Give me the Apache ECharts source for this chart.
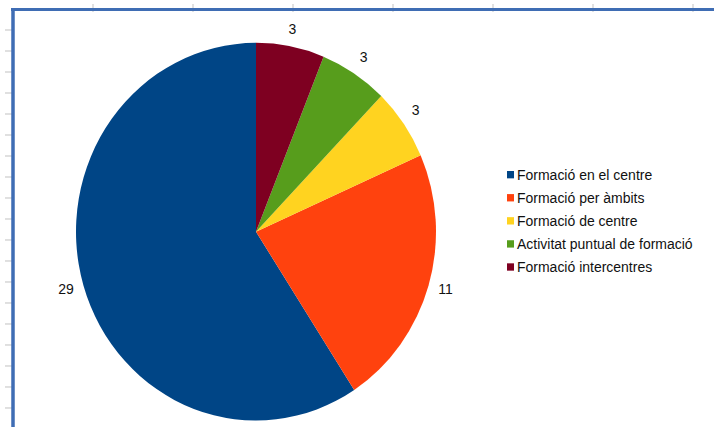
<!DOCTYPE html>
<html>
<head>
<meta charset="utf-8">
<script src="https://cdn.jsdelivr.net/npm/echarts@6/dist/echarts.min.js"></script>
<style>
  html, body { margin: 0; padding: 0; background: #fff; }
  #wrap { width: 714px; height: 427px; overflow: hidden; position: relative; }
  #chart { width: 714px; height: 407px; transform-origin: 0 0; transform: scaleY(1.0491); }
</style>
</head>
<body>
<div id="wrap"><div id="chart"></div></div>
<script>
// Data
const categories = ['Formació en el centre', 'Formació per àmbits', 'Formació de centre', 'Activitat puntual de formació', 'Formació intercentres'];
const values = [29, 11, 3, 3, 3];
const colors = ['#004586', '#ff420e', '#ffd320', '#579d1c', '#7e0021'];

// Layout (unscaled coordinates; the chart is stretched vertically to 427px)
const S = 427 / 407;
const CX = 256, CY = 231.7 / S, R = 180;
const FONT = 'Liberation Sans, Arial, sans-serif';

const chart = echarts.init(document.getElementById('chart'), null, { renderer: 'svg' });

// Frame decoration (spreadsheet-like border with tick marks)
const frame = [];
const tickColor = '#c4c4c4';
for (let x = 93; x < 714; x += 100) {
  frame.push({ type: 'line', shape: { x1: x, y1: 4 / S, x2: x, y2: 12 / S }, style: { stroke: tickColor, lineWidth: 1 }, silent: true });
}
for (let y = 30; y < 427; y += 21) {
  frame.push({ type: 'line', shape: { x1: 5, y1: y / S, x2: 13, y2: y / S }, style: { stroke: tickColor, lineWidth: 1 }, silent: true });
}
frame.push({ type: 'line', shape: { x1: 11, y1: 9.5 / S, x2: 714, y2: 9.5 / S }, style: { stroke: '#3f6db4', lineWidth: 3 }, silent: true, z: 10 });
frame.push({ type: 'line', shape: { x1: 13, y1: 8 / S, x2: 13, y2: 427 / S }, style: { stroke: '#3f6db4', lineWidth: 3.5 }, silent: true, z: 10 });

function placeLabel(params) {
  const r = params.labelRect;
  const ax = params.align === 'right' ? r.x + r.width : r.x;
  const ay = r.y + r.height / 2;
  let deg = Math.atan2(CY - ay, ax - CX) * 180 / Math.PI;
  if (deg < 0) deg += 360;
  let align, va;
  if (deg < 22.5 || deg >= 337.5) { align = 'left'; va = 'middle'; }
  else if (deg < 67.5) { align = 'left'; va = 'bottom'; }
  else if (deg < 112.5) { align = 'center'; va = 'bottom'; }
  else if (deg < 157.5) { align = 'right'; va = 'bottom'; }
  else if (deg < 202.5) { align = 'right'; va = 'middle'; }
  else if (deg < 247.5) { align = 'right'; va = 'top'; }
  else if (deg < 292.5) { align = 'center'; va = 'top'; }
  else { align = 'left'; va = 'top'; }
  return { x: ax, y: ay, align: align, verticalAlign: va };
}

chart.setOption({
  animation: false,
  backgroundColor: '#ffffff',
  color: colors,
  textStyle: { fontFamily: FONT },
  graphic: { elements: frame },
  legend: {
    orient: 'vertical',
    left: 502,
    top: 154,
    itemWidth: 7,
    itemHeight: 7,
    itemGap: 7,
    icon: 'rect',
    selectedMode: false,
    data: categories,
    textStyle: { fontFamily: FONT, fontSize: 14, color: '#111', lineHeight: 15, padding: [0, 0, 0, -2] }
  },
  series: [{
    type: 'pie',
    center: [CX, CY],
    radius: R,
    startAngle: 90,
    clockwise: false,
    avoidLabelOverlap: false,
    silent: true,
    itemStyle: { borderWidth: 0 },
    label: {
      show: true,
      position: 'outside',
      formatter: '{c}',
      fontFamily: FONT,
      fontSize: 14,
      color: '#111',
      distanceToLabelLine: 0
    },
    labelLine: { show: false, length: 10, length2: 0 },
    labelLayout: placeLabel,
    emphasis: { disabled: true },
    data: categories.map((n, i) => ({ name: n, value: values[i] }))
  }]
});
</script>
</body>
</html>
